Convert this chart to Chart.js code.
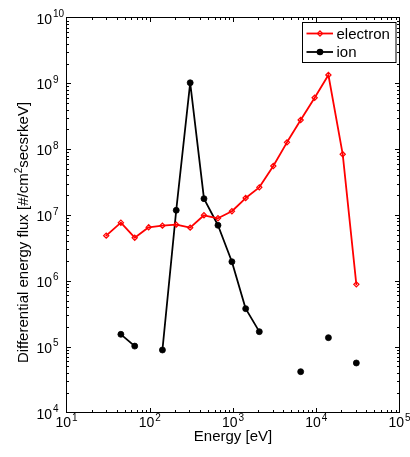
<!DOCTYPE html>
<html><head><meta charset="utf-8">
<script src="https://cdn.jsdelivr.net/npm/chart.js@4/dist/chart.umd.min.js"></script>
<style>html,body{margin:0;padding:0;background:#fff;}canvas{display:block;}</style>
</head><body>
<canvas id="c" width="410" height="457"></canvas>
<script>
// ---- data ----
const energy   = [30, 45, 66, 97, 142, 208, 306, 448, 660, 970, 1420, 2070, 3050, 4450, 6500, 9570, 14000, 20800, 30300];
const electron = [4.86e6, 7.64e6, 4.52e6, 6.5e6, 6.89e6, 7.13e6, 6.42e6, 9.9e6, 8.92e6, 1.14e7, 1.81e7, 2.63e7, 5.55e7, 1.27e8, 2.77e8, 6.05e8, 1.34e9, 8.36e7, 8.85e5];
const ion      = [null, 1.54e5, 1.02e5, null, 8.9e4, 1.18e7, 1.02e9, 1.77e7, 6.98e6, 1.95e6, 3.78e5, 1.69e5, null, null, 4.17e4, null, 1.37e5, null, 5.65e4];
const seriesNames = ['electron', 'ion'];
const xTickExps = [1, 2, 3, 4, 5];
const yTickExps = [4, 5, 6, 7, 8, 9, 10];
const xTitle = 'Energy [eV]';
const yTitleParts = ['Differential energy flux [#/cm', '2', 'secsrkeV]'];

const FONT = '"Liberation Sans", Arial, Helvetica, sans-serif';
const RED = '#ff0000';

function pts(vals) { return energy.map((e, i) => ({ x: e, y: vals[i] })); }

const decor = {
  id: 'decor',
  afterDatasetsDraw(chart) {
    const ctx = chart.ctx;
    // legend
    ctx.save();
    ctx.fillStyle = '#fff';
    ctx.fillRect(302.5, 22.5, 93.5, 40);
    ctx.strokeStyle = '#000'; ctx.lineWidth = 1;
    ctx.strokeRect(302.5, 22.5, 93.5, 40);
    const rows = [{y: 33.5, c: RED, m: 'd', t: seriesNames[0]}, {y: 52, c: '#000', m: 'o', t: seriesNames[1]}];
    rows.forEach(r => {
      ctx.strokeStyle = r.c; ctx.lineWidth = 1.8;
      ctx.beginPath(); ctx.moveTo(306.5, r.y); ctx.lineTo(333, r.y); ctx.stroke();
      const mx = 320;
      if (r.m === 'd') {
        ctx.lineWidth = 1.2;
        ctx.beginPath(); ctx.moveTo(mx, r.y - 2.6); ctx.lineTo(mx + 2.6, r.y); ctx.lineTo(mx, r.y + 2.6); ctx.lineTo(mx - 2.6, r.y); ctx.closePath(); ctx.stroke();
      } else {
        ctx.fillStyle = r.c; ctx.beginPath(); ctx.arc(mx, r.y, 3.3, 0, Math.PI * 2); ctx.fill();
      }
      ctx.fillStyle = '#000'; ctx.font = '15px ' + FONT; ctx.textAlign = 'left'; ctx.textBaseline = 'alphabetic';
      ctx.fillText(r.t, 336.5, r.y + 5);
    });
    ctx.restore();
  },
  afterDraw(chart) {
    const ctx = chart.ctx, a = chart.chartArea;
    const xs = chart.scales.x, ys = chart.scales.y;
    ctx.save();
    // ticks (inward, all four sides)
    ctx.strokeStyle = '#000'; ctx.lineWidth = 1;
    ctx.beginPath();
    for (let k = 1; k <= 4; k++) {
      for (let m = 1; m <= 9; m++) {
        const v = m * Math.pow(10, k);
        if (v <= 10 || v >= 1e5) continue;
        const px = Math.round(xs.getPixelForValue(v)) + 0.5;
        const L = m === 1 ? 4.5 : 2.5;
        ctx.moveTo(px, a.bottom); ctx.lineTo(px, a.bottom - L);
        ctx.moveTo(px, a.top); ctx.lineTo(px, a.top + L);
      }
    }
    for (let k = 4; k <= 9; k++) {
      for (let m = 1; m <= 9; m++) {
        const v = m * Math.pow(10, k);
        if (v <= 1e4 || v >= 1e10) continue;
        const py = Math.round(ys.getPixelForValue(v)) + 0.5;
        const L = m === 1 ? 4.5 : 2.5;
        ctx.moveTo(a.left, py); ctx.lineTo(a.left + L, py);
        ctx.moveTo(a.right, py); ctx.lineTo(a.right - L, py);
      }
    }
    ctx.stroke();
    // box
    ctx.strokeRect(a.left, a.top, a.right - a.left, a.bottom - a.top);

    // x tick labels
    ctx.fillStyle = '#000'; ctx.textBaseline = 'alphabetic'; ctx.textAlign = 'left';
    xTickExps.forEach(e => {
      const px = xs.getPixelForValue(Math.pow(10, e));
      ctx.font = '14px ' + FONT; const wb = ctx.measureText('10').width;
      ctx.font = '10px ' + FONT; const we = ctx.measureText(String(e)).width;
      const start = px - (wb + 1 + we) / 2;
      ctx.font = '14px ' + FONT; ctx.fillText('10', start, 427);
      ctx.font = '10px ' + FONT; ctx.fillText(String(e), start + wb + 1, 420.5);
    });
    // y tick labels
    yTickExps.forEach(e => {
      const py = ys.getPixelForValue(Math.pow(10, e));
      ctx.font = '14px ' + FONT; ctx.textAlign = 'right'; ctx.fillText('10', 52, py + 6);
      ctx.font = '10px ' + FONT; ctx.textAlign = 'left'; ctx.fillText(String(e), 53, py - 0.5);
    });
    // x title
    ctx.font = '15px ' + FONT; ctx.textAlign = 'center';
    ctx.fillText(xTitle, (a.left + a.right) / 2, 441);
    // y title (rotated, with superscript)
    ctx.translate(28, 232.5); ctx.rotate(-Math.PI / 2);
    ctx.textAlign = 'left';
    ctx.font = '15px ' + FONT; const w1 = ctx.measureText(yTitleParts[0]).width; const w3 = ctx.measureText(yTitleParts[2]).width;
    ctx.font = '10px ' + FONT; const w2 = ctx.measureText(yTitleParts[1]).width;
    let sx = -(w1 + w2 + w3) / 2;
    ctx.font = '15px ' + FONT; ctx.fillText(yTitleParts[0], sx, 0); sx += w1;
    ctx.font = '10px ' + FONT; ctx.fillText(yTitleParts[1], sx, -6); sx += w2;
    ctx.font = '15px ' + FONT; ctx.fillText(yTitleParts[2], sx, 0);
    ctx.restore();
  }
};

new Chart(document.getElementById('c'), {
  type: 'line',
  data: {
    datasets: [
      { label: seriesNames[0], data: pts(electron), borderColor: RED, borderWidth: 1.8,
        borderJoinStyle: 'round', borderCapStyle: 'round',
        pointStyle: 'rectRot', pointRadius: 2.6, pointBorderWidth: 1.2, pointBorderColor: RED,
        pointBackgroundColor: 'rgba(0,0,0,0)', tension: 0, spanGaps: false, fill: false },
      { label: seriesNames[1], data: pts(ion), borderColor: '#000', borderWidth: 1.8,
        borderJoinStyle: 'round', borderCapStyle: 'round',
        pointStyle: 'circle', pointRadius: 3, pointBorderWidth: 0.8, pointBorderColor: '#000',
        pointBackgroundColor: '#000', tension: 0, spanGaps: false, fill: false }
    ]
  },
  options: {
    responsive: false, animation: false, devicePixelRatio: 1,
    layout: { padding: { top: 17.5, right: 10.5, left: 0, bottom: 0 } },
    plugins: { legend: { display: false }, tooltip: { enabled: false } },
    scales: {
      x: { type: 'logarithmic', min: 10, max: 1e5,
           grid: { display: false, drawTicks: false }, border: { display: false },
           ticks: { display: false },
           afterFit(s) { s.height = 44.5; } },
      y: { type: 'logarithmic', min: 1e4, max: 1e10,
           grid: { display: false, drawTicks: false }, border: { display: false },
           ticks: { display: false },
           afterFit(s) { s.width = 66.5; } }
    }
  },
  plugins: [decor]
});
</script>
</body></html>
